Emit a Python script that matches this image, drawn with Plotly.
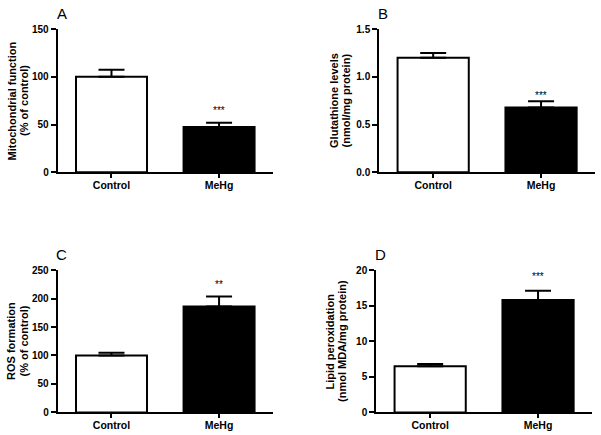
import plotly.graph_objects as go

categories = ["Control", "MeHg"]

mito_values = [100, 47.5]
mito_err = [7.5, 4.5]

gsh_values = [1.2, 0.68]
gsh_err = [0.05, 0.065]

ros_values = [100, 186]
ros_err = [5, 17.5]

lipid_values = [6.5, 15.8]
lipid_err = [0.3, 1.3]

y_ticks_a = [0, 50, 100, 150]
y_ticks_b = [0.0, 0.5, 1.0, 1.5]
y_tick_text_b = ["0.0", "0.5", "1.0", "1.5"]
y_ticks_c = [0, 50, 100, 150, 200, 250]
y_ticks_d = [0, 5, 10, 15, 20]

panels = [
    dict(vals=mito_values, err=mito_err, ticks=y_ticks_a, ttext=None, rng=[0, 150],
         xd=[0.096, 0.454], yd=[0.604, 0.933], letter="A",
         title=["Mitochondrial function", "(% of control)"], stars="***", sshift=5),
    dict(vals=gsh_values, err=gsh_err, ticks=y_ticks_b, ttext=y_tick_text_b, rng=[0, 1.5],
         xd=[0.631, 0.990], yd=[0.604, 0.933], letter="B",
         title=["Glutathione levels", "(nmol/mg protein)"], stars="***", sshift=-2),
    dict(vals=ros_values, err=ros_err, ticks=y_ticks_c, ttext=None, rng=[0, 250],
         xd=[0.096, 0.454], yd=[0.052, 0.379], letter="C",
         title=["ROS formation", "(% of control)"], stars="**", sshift=5),
    dict(vals=lipid_values, err=lipid_err, ticks=y_ticks_d, ttext=None, rng=[0, 20],
         xd=[0.626, 0.985], yd=[0.052, 0.379], letter="D",
         title=["Lipid peroxidation", "(nmol MDA/mg protein)"], stars="***", sshift=7),
]

FONT = "Arial, 'Liberation Sans', sans-serif"
W, H = 601, 435

fig = go.Figure()
annotations = []
layout = {}
for i, p in enumerate(panels, start=1):
    xa = "x" if i == 1 else f"x{i}"
    ya = "y" if i == 1 else f"y{i}"
    fig.add_trace(go.Bar(
        x=categories, y=p["vals"], xaxis=xa, yaxis=ya, width=0.66,
        marker=dict(color=["white", "black"], line=dict(color="black", width=2)),
        error_y=dict(type="data", array=p["err"], arrayminus=[0, 0], symmetric=False,
                     color="black", thickness=2, width=13),
        showlegend=False, hoverinfo="skip",
    ))
    xkey = "xaxis" if i == 1 else f"xaxis{i}"
    ykey = "yaxis" if i == 1 else f"yaxis{i}"
    layout[xkey] = dict(
        domain=p["xd"], anchor=ya, range=[-0.5, 1.5], showline=True, linecolor="black",
        linewidth=2, ticks="outside", ticklen=4, tickwidth=2, tickcolor="black",
        showgrid=False, zeroline=False, fixedrange=True, automargin=False,
        tickfont=dict(family=FONT, size=10.5, color="black", weight="bold"),
        ticklabelstandoff=-2,
    )
    yd = dict(
        domain=p["yd"], anchor=xa, range=p["rng"], showline=True, linecolor="black",
        linewidth=2, ticks="outside", ticklen=5, tickwidth=2, tickcolor="black",
        showgrid=False, zeroline=False, tickmode="array", tickvals=p["ticks"],
        tickfont=dict(family=FONT, size=10, color="black", weight="bold"),
        ticklabelstandoff=0, automargin=False, fixedrange=True,
    )
    if p["ttext"]:
        yd["ticktext"] = p["ttext"]
    layout[ykey] = yd

    # y titles (two lines)
    x0 = p["xd"][0]
    ymid = (p["yd"][0] + p["yd"][1]) / 2
    left_px = x0 * W
    for j, line in enumerate(p["title"]):
        annotations.append(dict(
            text=line, xref="paper", yref="paper", x=(left_px - 46 + j * 12.5) / W, y=ymid,
            xanchor="center", yanchor="middle", textangle=-90, showarrow=False,
            font=dict(family=FONT, size=11, color="black", weight="bold"),
        ))
    # panel letter
    annotations.append(dict(
        text=p["letter"], xref="paper", yref="paper", x=(left_px + 4) / W,
        y=p["yd"][1] + 16 / H, xanchor="center", yanchor="middle", showarrow=False,
        font=dict(family=FONT, size=15, color="black"),
    ))
    # significance stars
    annotations.append(dict(
        text=p["stars"], xref=xa, yref=ya, x=categories[1], y=p["vals"][1] + p["err"][1],
        xanchor="center", yanchor="bottom", yshift=p["sshift"], showarrow=False,
        font=dict(family=FONT, size=10, color="black"),
    ))

fig.update_layout(
    width=W, height=H, margin=dict(l=0, r=0, t=0, b=0),
    paper_bgcolor="white", plot_bgcolor="white", hovermode=False,
    annotations=annotations, **layout,
)

fig.write_html(
    "out.html",
    config={"displayModeBar": False, "staticPlot": True},
    post_script="document.body.style.margin='0';document.body.style.overflow='hidden';",
)
